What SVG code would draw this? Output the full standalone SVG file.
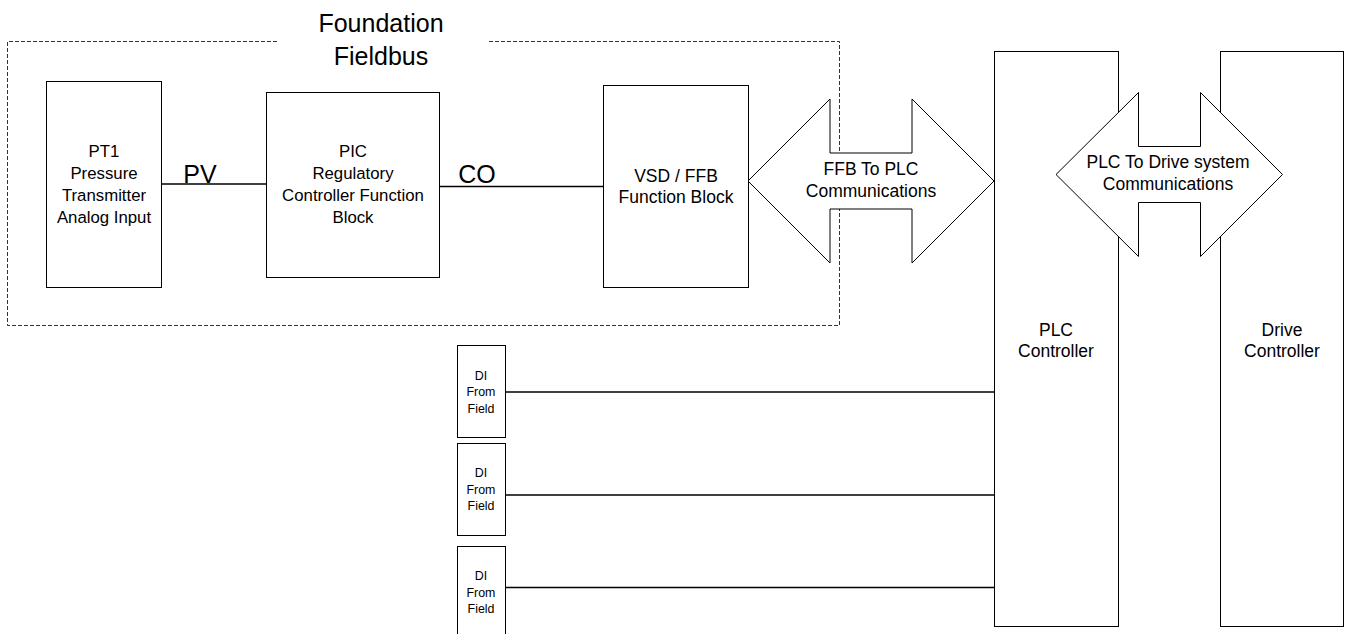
<svg xmlns="http://www.w3.org/2000/svg" width="1346" height="634" viewBox="0 0 1346 634">
  <style>
    .box { fill: #fff; stroke: #000; stroke-width: 1; }
    .fat { fill: #fff; stroke: #000; stroke-width: 1; stroke-linejoin: miter; }
    .wire { stroke: #000; stroke-width: 1.6; fill: none; }
    .dash { stroke: #333; stroke-width: 1; fill: none; stroke-dasharray: 4 2; }
    text { font-family: "Liberation Sans", Arial, sans-serif; fill: #000; text-anchor: middle; }
    .t17 { font-size: 16.8px; }
    .t18 { font-size: 17.5px; }
    .big { font-size: 25px; }
    .di { font-size: 12.4px; }
  </style>
  <rect width="1346" height="634" fill="#fff"/>

  <!-- Foundation Fieldbus boundary (open at the title) -->
  <g id="fieldbus-boundary">
    <path class="dash" d="M277 41.5 H7.5 V325.5 H839.5 V41.5 H488"/>
    <text class="big" x="381" y="32">Foundation</text>
    <text class="big" x="381" y="65">Fieldbus</text>
  </g>

  <!-- connectors -->
  <g id="connectors">
    <line class="wire" x1="161" y1="184" x2="266" y2="184"/>
    <line class="wire" x1="439" y1="186.5" x2="604" y2="186.5"/>
    <line class="wire" x1="505" y1="392" x2="994" y2="392"/>
    <line class="wire" x1="505" y1="495" x2="994" y2="495"/>
    <line class="wire" x1="505" y1="587.5" x2="994" y2="587.5"/>
    <text class="big" x="200" y="183" text-anchor="middle">PV</text>
    <text class="big" x="477" y="183" text-anchor="middle">CO</text>
  </g>

  <g id="pt1">
    <rect class="box" x="46.5" y="81.5" width="115" height="206"/>
    <text class="t17" x="104" y="157">PT1</text>
    <text class="t17" x="104" y="179">Pressure</text>
    <text class="t17" x="104" y="201">Transmitter</text>
    <text class="t17" x="104" y="223">Analog Input</text>
  </g>

  <g id="pic">
    <rect class="box" x="266.5" y="92.5" width="173" height="185"/>
    <text class="t17" x="353" y="157">PIC</text>
    <text class="t17" x="353" y="179">Regulatory</text>
    <text class="t17" x="353" y="201">Controller Function</text>
    <text class="t17" x="353" y="223">Block</text>
  </g>

  <g id="vsd-ffb">
    <rect class="box" x="603.5" y="85.5" width="145" height="202"/>
    <text class="t18" x="676" y="182">VSD / FFB</text>
    <text class="t18" x="676" y="203">Function Block</text>
  </g>

  <g id="plc">
    <rect class="box" x="994.5" y="51.5" width="124" height="575"/>
    <text class="t18" x="1056" y="336">PLC</text>
    <text class="t18" x="1056" y="357">Controller</text>
  </g>

  <g id="drive">
    <rect class="box" x="1220.5" y="51.5" width="123" height="575"/>
    <text class="t18" x="1282" y="336">Drive</text>
    <text class="t18" x="1282" y="357">Controller</text>
  </g>

  <g id="ffb-to-plc">
    <polygon class="fat" points="748,181 830,99 830,153 912,153 912,99 994,181 912,263 912,209 830,209 830,263"/>
    <text class="t18" x="871" y="175">FFB To PLC</text>
    <text class="t18" x="871" y="197">Communications</text>
  </g>

  <g id="plc-to-drive">
    <polygon class="fat" points="1056,174.5 1138.5,92.5 1138.5,146.5 1200.5,146.5 1200.5,92.5 1282.5,174.5 1200.5,256.5 1200.5,202.5 1138.5,202.5 1138.5,256.5"/>
    <text class="t18" x="1168" y="168">PLC To Drive system</text>
    <text class="t18" x="1168" y="190">Communications</text>
  </g>

  <g id="di-1">
    <rect class="box" x="457.5" y="345.5" width="48" height="92"/>
    <text class="di" x="481" y="380">DI</text>
    <text class="di" x="481" y="396">From</text>
    <text class="di" x="481" y="413">Field</text>
  </g>

  <g id="di-2">
    <rect class="box" x="457.5" y="443.5" width="48" height="92"/>
    <text class="di" x="481" y="477">DI</text>
    <text class="di" x="481" y="494">From</text>
    <text class="di" x="481" y="510">Field</text>
  </g>

  <g id="di-3">
    <rect class="box" x="457.5" y="546.5" width="48" height="92"/>
    <text class="di" x="481" y="580">DI</text>
    <text class="di" x="481" y="597">From</text>
    <text class="di" x="481" y="613">Field</text>
  </g>
</svg>
